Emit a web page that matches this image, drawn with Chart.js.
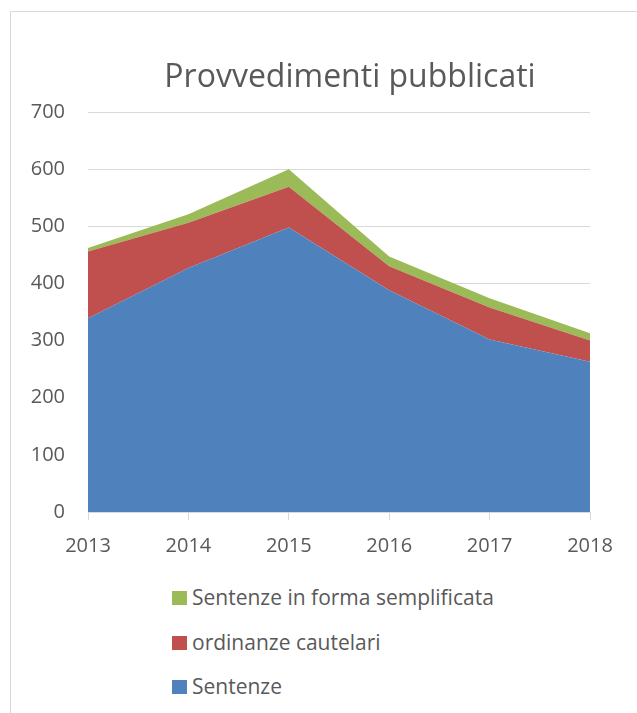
<!DOCTYPE html>
<html>
<head>
<meta charset="utf-8">
<script src="https://cdn.jsdelivr.net/npm/chart.js@4/dist/chart.umd.min.js"></script>
<style>
  body { margin: 0; background: #fff; font-family: "Open Sans", sans-serif; }
  #cadre { position: absolute; left: 10px; top: 11px; width: 640px; height: 720px; border: 1px solid #d9d9d9; }
  #graphique { position: absolute; left: 0; top: 0; }
  #titre { position: absolute; left: 0; top: 59px; width: 700px; text-align: center; color: #595959; font-size: 32px; line-height: 32px; }
  #legende { position: absolute; left: 172px; top: 583px; color: #595959; font-size: 21px; }
  .item { height: 44.5px; display: flex; align-items: flex-start; }
  .case { width: 15px; height: 14px; margin-top: 8px; margin-right: 5px; }
</style>
</head>
<body>
<div id="cadre"></div>
<canvas id="graphique" width="637" height="560"></canvas>
<div id="titre">Provvedimenti pubblicati</div>
<div id="legende"></div>
<script>
// Annees (axe x)
const annees = ["2013", "2014", "2015", "2016", "2017", "2018"];
// Valeurs, empilees de bas en haut
const sentenze = [339, 427, 498, 388, 302, 263];
const ordinanze = [117, 79, 71, 42, 56, 37];
const semplificata = [6, 15, 31, 17, 16, 13];
const nomsSeries = ["Sentenze", "ordinanze cautelari", "Sentenze in forma semplificata"];
const couleurs = ["#4f81bd", "#c0504d", "#9bbb59"];

const valeurs = [sentenze, ordinanze, semplificata];

const datasets = [];
for (let i = 0; i < valeurs.length; i++) {
  datasets.push({
    label: nomsSeries[i],
    data: valeurs[i],
    backgroundColor: couleurs[i],
    borderWidth: 0,
    pointRadius: 0,
    fill: i === 0 ? "origin" : "-1",
    tension: 0
  });
}

const gris = "#595959";

new Chart(document.querySelector("#graphique"), {
  type: "line",
  data: { labels: annees, datasets: datasets },
  options: {
    responsive: false,
    animation: false,
    layout: { padding: { left: 20, right: 47, top: 112, bottom: 0 } },
    plugins: {
      legend: { display: false },
      tooltip: { enabled: false }
    },
    scales: {
      x: {
        offset: false,
        grid: { drawOnChartArea: false, drawTicks: true, tickLength: 8, color: "#d9d9d9" },
        border: { color: "#d9d9d9" },
        ticks: { color: gris, font: { family: "Open Sans", size: 20 }, padding: 14, maxRotation: 0 },
        afterFit: function (scale) { scale.height = 48; }
      },
      y: {
        stacked: true,
        min: 0,
        max: 700,
        ticks: { stepSize: 100, color: gris, font: { family: "Open Sans", size: 20 }, padding: 23 },
        grid: { color: "#d9d9d9", drawTicks: false },
        border: { display: false },
        afterFit: function (scale) { scale.width = 68; }
      }
    }
  }
});

// Legende en HTML, ordre inverse comme dans l'original
const legende = document.querySelector("#legende");
for (let i = nomsSeries.length - 1; i >= 0; i--) {
  const item = document.createElement("div");
  item.className = "item";
  item.innerHTML = `<span class="case" style="background:${couleurs[i]}"></span><span>${nomsSeries[i]}</span>`;
  legende.appendChild(item);
}
</script>
</body>
</html>
